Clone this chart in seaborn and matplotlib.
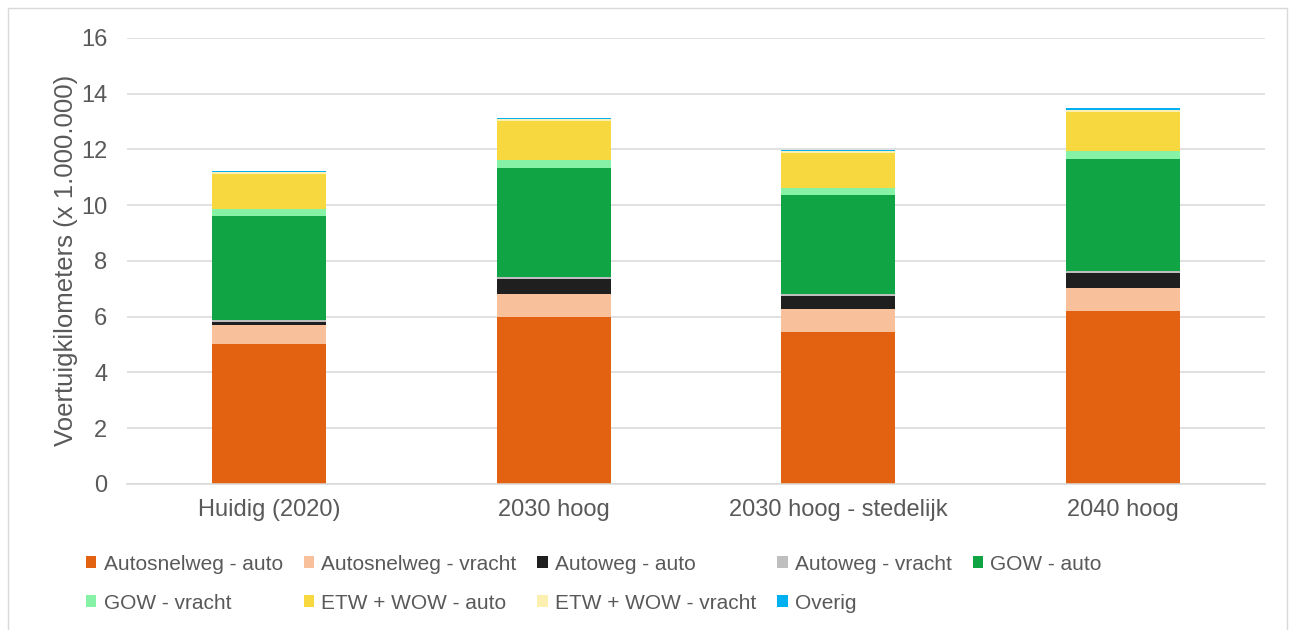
import seaborn as sns
import matplotlib.pyplot as plt
import numpy as np
from matplotlib.patches import Patch, Rectangle

# Data (x 1.000.000 voertuigkilometers)
categories = ["Huidig (2020)", "2030 hoog", "2030 hoog - stedelijk", "2040 hoog"]
series = ["Autosnelweg - auto", "Autosnelweg - vracht", "Autoweg - auto",
          "Autoweg - vracht", "GOW - auto", "GOW - vracht",
          "ETW + WOW - auto", "ETW + WOW - vracht", "Overig"]
autosnelweg_auto = [5.03, 5.98, 5.44, 6.20]
autosnelweg_vracht = [0.67, 0.84, 0.84, 0.83]
autoweg_auto = [0.12, 0.52, 0.46, 0.54]
autoweg_vracht = [0.05, 0.07, 0.08, 0.06]
gow_auto = [3.74, 3.93, 3.55, 4.03]
gow_vracht = [0.24, 0.26, 0.26, 0.28]
etw_wow_auto = [1.26, 1.40, 1.23, 1.41]
etw_wow_vracht = [0.06, 0.07, 0.07, 0.07]
overig = [0.05, 0.05, 0.05, 0.05]

colors = ["#E36211", "#F8C09B", "#1F1F1F", "#BFBFBF", "#11A444",
          "#86F2A5", "#F7D83F", "#FCF0B1", "#00B0F0"]

values = [autosnelweg_auto, autosnelweg_vracht, autoweg_auto, autoweg_vracht,
          gow_auto, gow_vracht, etw_wow_auto, etw_wow_vracht, overig]
cum = np.cumsum(np.array(values), axis=0)

sns.set_theme(style="white")
plt.rcParams['font.family'] = ['Liberation Sans', 'DejaVu Sans']
grey_text = "#595959"

fig = plt.figure(figsize=(12.95, 6.3), dpi=100)
ax = fig.add_axes([0.098, 0.232, 0.879, 0.708])

# stacked bars: draw cumulative totals from top layer down
for i in range(len(series) - 1, -1, -1):
    sns.barplot(x=categories, y=cum[i], color=colors[i], saturation=1,
                width=0.4, ax=ax, linewidth=0, zorder=2)

ax.set_ylim(0, 16)
ax.set_xlim(-0.5, 3.5)
ax.set_yticks(range(0, 17, 2))
ax.yaxis.grid(True, color="#D9D9D9", linewidth=1.1, zorder=0)
ax.set_axisbelow(True)
for s in ["top", "right", "left"]:
    ax.spines[s].set_visible(False)
ax.spines["bottom"].set_color("#D9D9D9")
ax.spines["bottom"].set_linewidth(1.1)
ax.tick_params(axis="y", length=0, pad=14, labelsize=17, labelcolor=grey_text)
ax.tick_params(axis="x", length=0, pad=11, labelsize=17, labelcolor=grey_text)
ax.set_ylabel("Voertuigkilometers (x 1.000.000)", fontsize=18.5,
              color=grey_text, labelpad=2)
ax.set_xlabel("")

# legend: row-wise order in 5 columns
handles = [Patch(facecolor=c, edgecolor="none") for c in colors]
order = [0, 5, 1, 6, 2, 7, 3, 8, 4]
leg = fig.legend([handles[i] for i in order], [series[i] for i in order],
                 loc="upper left", bbox_to_anchor=(0.06, 0.133),
                 ncol=5, frameon=False, fontsize=15, handlelength=0.5,
                 handleheight=0.5, handletextpad=0.35, columnspacing=1.0,
                 labelspacing=0.97, borderaxespad=0)
for t in leg.get_texts():
    t.set_color(grey_text)

# light border around the chart area
fig.patches.append(Rectangle((0.006, -0.02), 0.988, 1.007, transform=fig.transFigure,
                             fill=False, edgecolor="#D9D9D9", linewidth=1))

fig.savefig("out.png", dpi=100)
